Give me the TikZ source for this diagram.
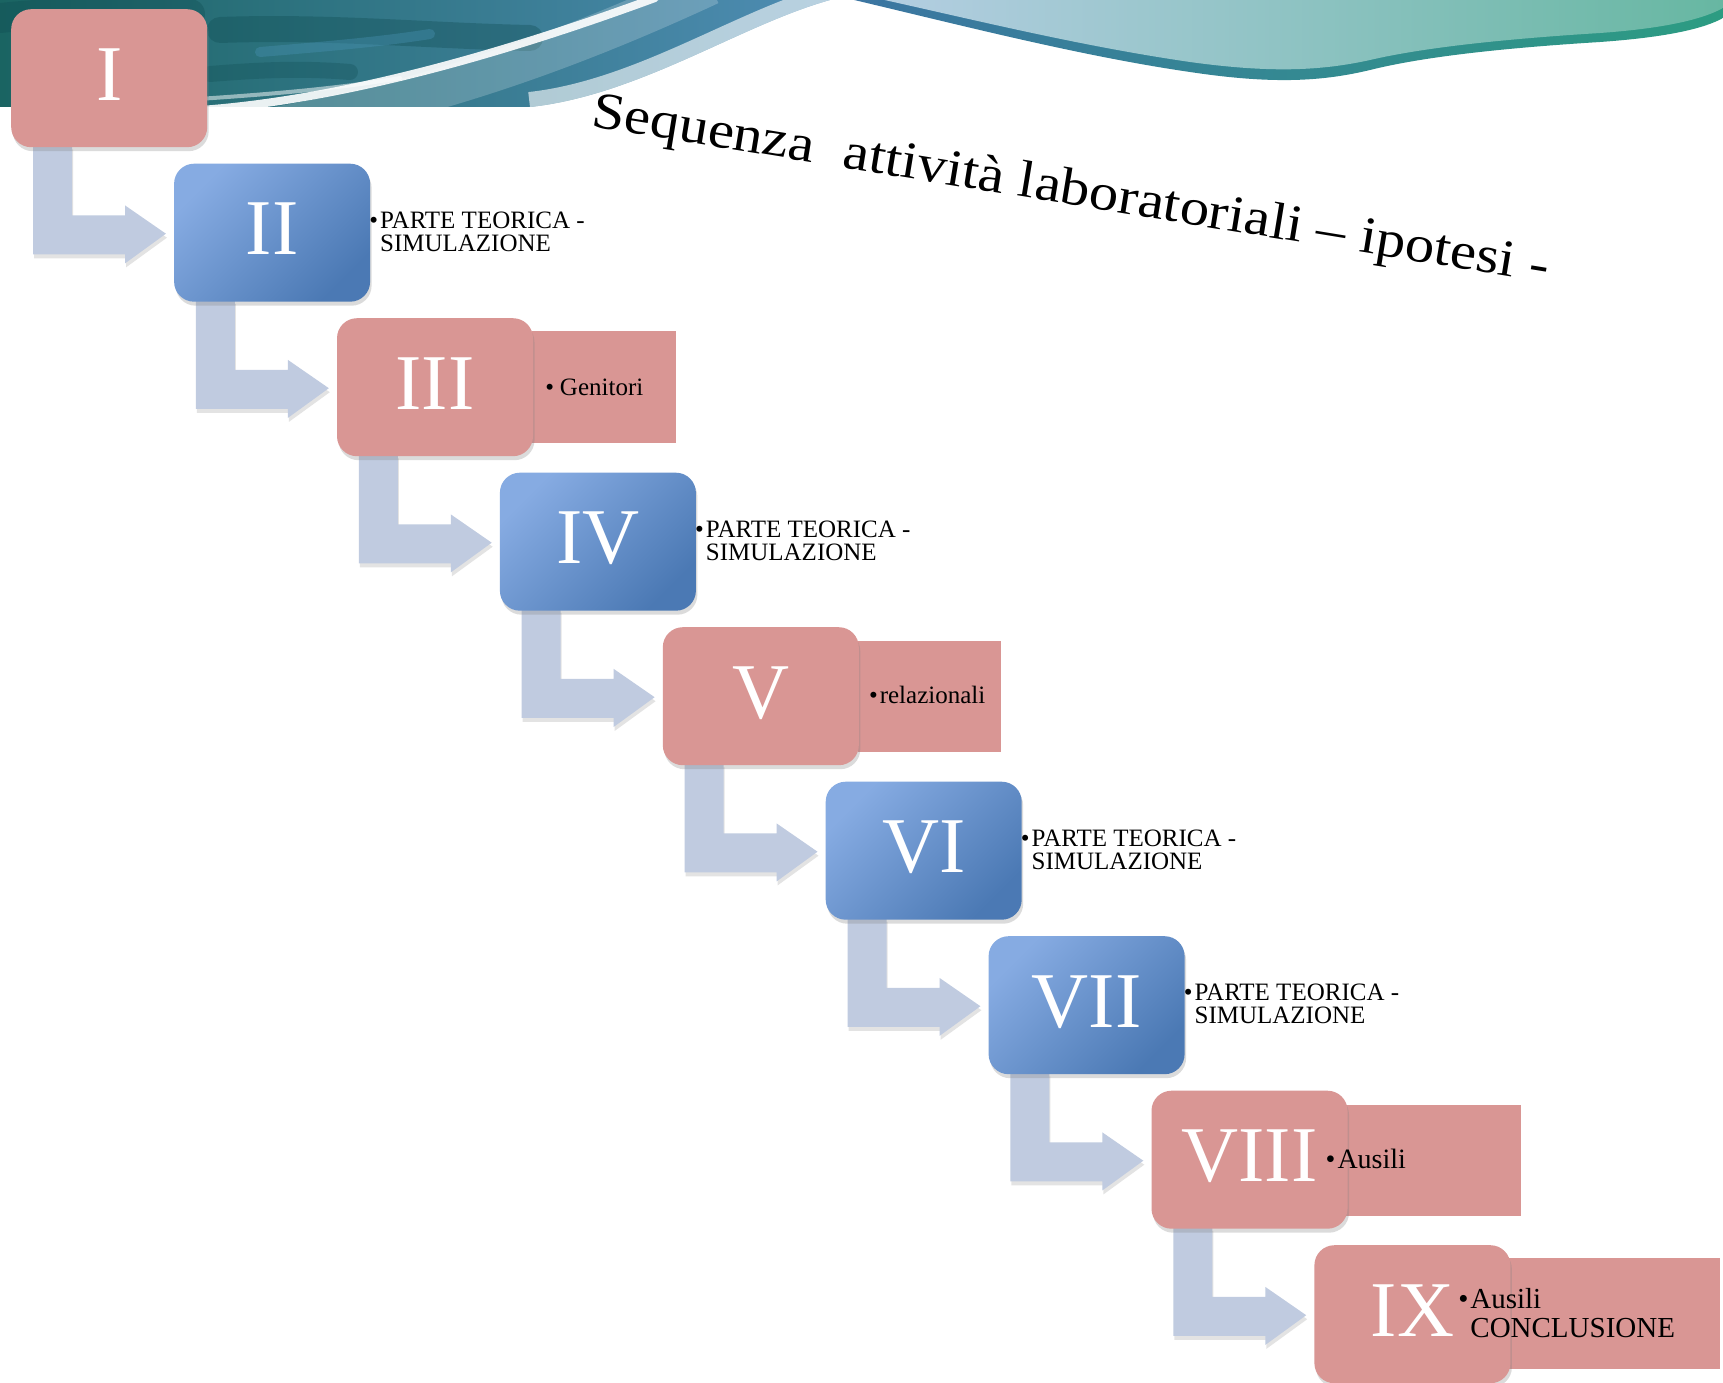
\documentclass[tikz,border=0pt]{standalone}
\usepackage{fontspec}
\usepackage{graphicx}
\setmainfont{Liberation Serif}
\usetikzlibrary{calc,shadows}
\pgfdeclarelayer{bglayer}
\pgfdeclarelayer{arrlayer}
\pgfsetlayers{bglayer,arrlayer,main}
\definecolor{pinkc}{HTML}{D99694}
\definecolor{blueA}{HTML}{86ABE2}
\definecolor{blueB}{HTML}{4B79B4}
\definecolor{arrowc}{HTML}{C0CBE0}
\definecolor{tealA}{HTML}{1A6462}
\definecolor{tealB}{HTML}{2C8794}
\definecolor{tealC}{HTML}{4F8DB4}
\definecolor{tealD}{HTML}{0F4C52}
\definecolor{rimL}{HTML}{3C75A2}
\definecolor{rimR}{HTML}{2C9C82}
\definecolor{swL}{HTML}{B4CEE2}
\definecolor{swM}{HTML}{A9D0CE}
\definecolor{swR}{HTML}{67B7A2}
\tikzset{
  numbox/.style={anchor=north west, minimum width=196pt, minimum height=138pt, inner sep=0pt,
    rounded corners=20pt, text=white, font=\fontsize{79}{79}\selectfont,
    text height=52pt, text depth=8pt,
    drop shadow={shadow xshift=1.5pt, shadow yshift=-4pt, opacity=0.28}},
  pinkbox/.style={numbox, fill=pinkc},
  bluebox/.style={numbox, top color=blueA, bottom color=blueB, shading angle=45},
  siderect/.style={fill=pinkc},
  sidetxt/.style={anchor=base west, inner sep=0pt, font=\fontsize{25}{25}\selectfont},
  flowarrow/.style={fill=arrowc, drop shadow={shadow xshift=1pt, shadow yshift=-4pt, opacity=0.22}},
}
\begin{document}
\begin{tikzpicture}[x=1pt,y=-1pt]
\useasboundingbox (0,0) rectangle (1723,1383);
\clip (0,0) rectangle (1723,1383);

\begin{pgfonlayer}{bglayer}
\fill[white] (0,0) rectangle (1723,1383);
% ---------- header, left part ----------
\begin{scope}
  \clip (0,0) -- (830,0) .. controls (740,25) and (640,95) .. (530,107) -- (0,107) -- cycle;
  \shade[left color=tealA, middle color=tealB, right color=tealC] (0,0) rectangle (830,107);
  \draw[tealD, opacity=0.35, line width=26pt, line cap=round] (220,30) .. controls (330,26) and (430,36) .. (530,38);
  \draw[tealD, opacity=0.3, line width=16pt, line cap=round] (210,74) .. controls (260,70) and (300,68) .. (350,72);
  \draw[tealD, opacity=0.35, line width=30pt, line cap=round] (0,18) .. controls (60,12) and (120,10) .. (190,14);
  \draw[cyan!35!tealB, opacity=0.35, line width=10pt, line cap=round] (260,52) .. controls (320,47) and (380,42) .. (430,34);
  \draw[white, opacity=0.2, line width=40pt] (270,128) .. controls (430,100) and (570,50) .. (710,-15);
  \draw[white, opacity=0.9, line width=8pt, line cap=round] (200,110) .. controls (340,100) and (500,55) .. (655,-2);
  \draw[white, opacity=0.5, line width=4pt, line cap=round] (150,102) .. controls (250,96) and (330,90) .. (400,78);
  \draw[white, opacity=0.6, line width=30pt] (830,0) .. controls (740,25) and (640,95) .. (530,107);
\end{scope}
% ---------- header, right swoosh ----------
\shade[left color=rimL, right color=rimR]
  (850,-1) .. controls (960,25) and (1080,56) .. (1190,72)
  .. controls (1270,84) and (1320,82) .. (1370,70)
  .. controls (1430,55) and (1520,47) .. (1600,42)
  .. controls (1670,37) and (1705,28) .. (1723,18) -- (1723,-1) -- cycle;
\shade[left color=swL, middle color=swM, right color=swR]
  (880,-1) .. controls (975,20) and (1080,46) .. (1190,62)
  .. controls (1270,73) and (1320,71) .. (1370,60)
  .. controls (1430,46) and (1520,38) .. (1600,33)
  .. controls (1670,28) and (1705,18) .. (1723,8) -- (1723,-1) -- cycle;
\end{pgfonlayer}

% ---------- title ----------
\node[anchor=base west, rotate=-9.3, inner sep=0pt, font=\fontsize{52}{52}\selectfont] (title) at (590,126)
  {\scalebox{1.13}[1]{Sequenza\ \ attività laboratoriali – ipotesi -}};

% ---------- box positions ----------
\coordinate (p1) at (11,9);
\coordinate (p2) at (173.9,163.5);
\coordinate (p3) at (336.8,318);
\coordinate (p4) at (499.7,472.5);
\coordinate (p5) at (662.6,627);
\coordinate (p6) at (825.5,781.5);
\coordinate (p7) at (988.4,936);
\coordinate (p8) at (1151.3,1090.5);
\coordinate (p9) at (1314.2,1245);

% ---------- side rectangles ----------
\fill[siderect] ($(p3)+(195,13)$) rectangle ($(p3)+(339,125)$);
\fill[siderect] ($(p5)+(195,14)$) rectangle ($(p5)+(338,125)$);
\fill[siderect] ($(p8)+(150,14)$) rectangle ($(p8)+(370,125)$);
\fill[siderect] ($(p9)+(150,13)$) rectangle ($(p9)+(406,124)$);

% ---------- boxes ----------
\node[pinkbox] (b1) at (p1) {I};
\node[bluebox] (b2) at (p2) {II};
\node[pinkbox] (b3) at (p3) {III};
\node[bluebox] (b4) at (p4) {IV};
\node[pinkbox] (b5) at (p5) {V};
\node[bluebox] (b6) at (p6) {VI};
\node[bluebox] (b7) at (p7) {VII};
\node[pinkbox] (b8) at (p8) {VIII};
\node[pinkbox] (b9) at (p9) {IX};

% ---------- bent arrows, behind the boxes ----------
\begin{pgfonlayer}{arrlayer}
\foreach \k/\n in {1/2,2/3,3/4,4/5,5/6,6/7,7/8,8/9} {
  \fill[flowarrow] ($(b\k.south west)+(22,-2)$) -- ++(39,0) -- ++(0,70) -- ++(53,0) -- ++(0,-10)
    -- ($(b\n.west)+(-8,1)$) -- ($(b\k.south west)+(114,116)$) -- ++(0,-9) -- ++(-92,0) -- cycle;
}
\end{pgfonlayer}

% ---------- side texts ----------
\node[sidetxt] (t2a) at ($(b2.north west)+(206,64.5)$) {\llap{•\hspace{2pt}}PARTE TEORICA -};
\node[sidetxt] (t2b) at ($(b2.north west)+(206,87.5)$) {SIMULAZIONE};
\node[sidetxt] (t3)  at ($(b3.north west)+(223,77)$) {\llap{•\hspace{6pt}}Genitori};
\node[sidetxt] (t4a) at ($(b4.north west)+(206,64.5)$) {\llap{•\hspace{2pt}}PARTE TEORICA -};
\node[sidetxt] (t4b) at ($(b4.north west)+(206,87.5)$) {SIMULAZIONE};
\node[sidetxt] (t5)  at ($(b5.north west)+(217,76)$) {\llap{•\hspace{2pt}}relazionali};
\node[sidetxt] (t6a) at ($(b6.north west)+(206,64.5)$) {\llap{•\hspace{2pt}}PARTE TEORICA -};
\node[sidetxt] (t6b) at ($(b6.north west)+(206,87.5)$) {SIMULAZIONE};
\node[sidetxt] (t7a) at ($(b7.north west)+(206,64.5)$) {\llap{•\hspace{2pt}}PARTE TEORICA -};
\node[sidetxt] (t7b) at ($(b7.north west)+(206,87.5)$) {SIMULAZIONE};
\node[sidetxt, font=\fontsize{28}{28}\selectfont] (t8) at ($(b8.north west)+(186,77.5)$) {\llap{•\hspace{2pt}}Ausili};
\node[sidetxt, font=\fontsize{29}{29}\selectfont] (t9a) at ($(b9.north west)+(156,63)$) {\llap{•\hspace{2pt}}Ausili};
\node[sidetxt, font=\fontsize{29}{29}\selectfont] (t9b) at ($(b9.north west)+(156,92)$) {CONCLUSIONE};
\end{tikzpicture}
\end{document}
